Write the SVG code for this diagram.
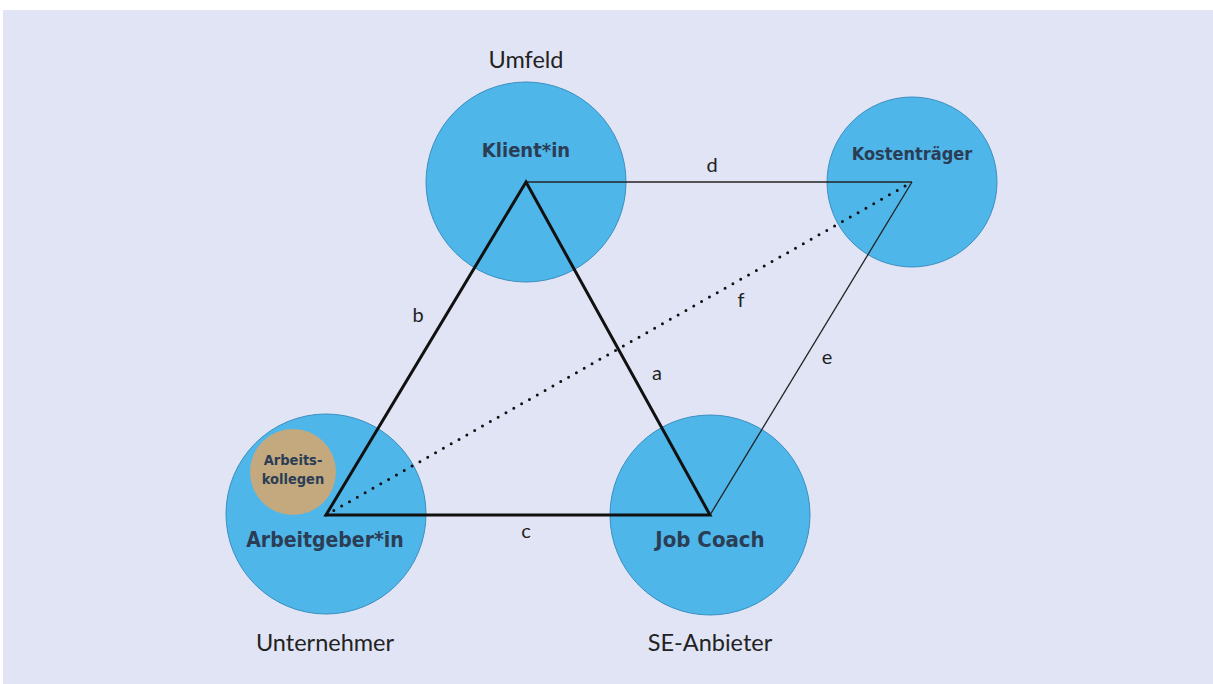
<svg xmlns="http://www.w3.org/2000/svg" width="1213" height="684" viewBox="0 0 1213 684">
<style>
.node{fill:#4fb6ea;stroke:#3a8fc0;stroke-width:1}
.kol{fill:#c4a97e;stroke:none}
.nt{font-family:"DejaVu Sans Condensed","DejaVu Sans",sans-serif;font-weight:bold;fill:#2b3d55;text-anchor:middle}
.lab{font-family:Lato,"Noto Sans",sans-serif;fill:#222;text-anchor:middle}
.thick{stroke:#111;stroke-width:3;fill:none;stroke-linejoin:miter}
.thin{stroke:#222;stroke-width:1.3;fill:none}
.dot{stroke:#111;stroke-width:3;stroke-linecap:round;stroke-dasharray:0 9;fill:none}
</style>
<rect x="0" y="0" width="1213" height="684" fill="#ffffff"/>
<rect x="3" y="10" width="1210" height="674" fill="#e1e4f5"/>
<g id="klient">
<circle class="node" cx="526" cy="182" r="100"/>
<text class="nt" x="526" y="157" font-size="20">Klient*in</text>
</g>
<g id="kostentraeger">
<circle class="node" cx="912" cy="182" r="85"/>
<text class="nt" x="912" y="160" font-size="18">Kostenträger</text>
</g>
<g id="arbeitgeber">
<circle class="node" cx="326" cy="514" r="100"/>
<text class="nt" x="325" y="547" font-size="21">Arbeitgeber*in</text>
</g>
<g id="kollegen">
<circle class="kol" cx="293" cy="472" r="43"/>
<text class="nt" x="293" y="465" font-size="14.5">Arbeits-</text>
<text class="nt" x="293" y="484" font-size="14.5">kollegen</text>
</g>
<g id="jobcoach">
<circle class="node" cx="710" cy="515" r="100"/>
<text class="nt" x="710" y="547" font-size="22">Job Coach</text>
</g>
<g id="connectors">
<line class="thin" x1="526" y1="182" x2="912" y2="182"/>
<line class="thin" x1="912" y1="182" x2="710" y2="515"/>
<line class="dot" x1="326" y1="515" x2="912" y2="182"/>
<polygon class="thick" points="526,182 710,515 326,515"/>
</g>
<g id="labels">
<text class="lab" x="526" y="68" font-size="23.5">Umfeld</text>
<text class="lab" x="325" y="651" font-size="23.5">Unternehmer</text>
<text class="lab" x="710" y="651" font-size="23.5">SE-Anbieter</text>
<text class="lab" x="418" y="322" font-size="20">b</text>
<text class="lab" x="657" y="380" font-size="20">a</text>
<text class="lab" x="526" y="538" font-size="20">c</text>
<text class="lab" x="712" y="172" font-size="20">d</text>
<text class="lab" x="827" y="364" font-size="20">e</text>
<text class="lab" x="741" y="307" font-size="20">f</text>
</g>
</svg>
